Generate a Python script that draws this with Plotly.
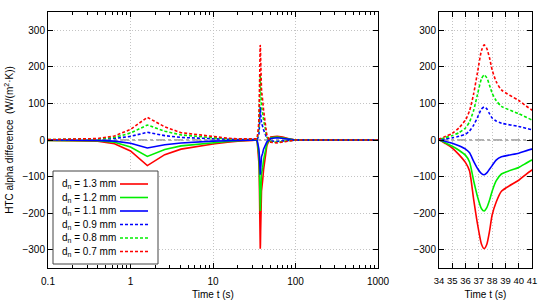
import plotly.graph_objects as go

# ---------------- data ----------------
time_s = [0.1, 0.2, 0.4, 0.64, 1.0, 1.6, 2.6, 4.1, 6.6, 10, 15, 20, 30,
          34, 34.5, 35, 35.5, 36, 36.3, 36.6, 36.9, 37.2, 37.4, 37.6, 37.8, 38.0, 38.3, 38.7, 40, 41,
          45, 50, 60, 70, 85, 100, 200, 1000]

d13 = [-1, -1, -3, -10, -30, -70, -40, -25, -17, -11, -6, -3, -1,
       0, -10, -22, -40, -62, -85, -160, -230, -285, -297, -285, -250, -205, -170, -140, -110, -82,
       -15, 8, 10, 8, 3, 0, 0, 0]
d12 = [-1, -1, -2, -6, -19, -45, -26, -16, -11, -7, -4, -2, -1,
       0, -8, -17, -28, -42, -60, -110, -155, -188, -194, -185, -165, -140, -112, -93, -75, -55,
       -10, 6, 8, 6, 2, 0, 0, 0]
d11 = [0, 0, -1, -3, -9, -22, -13, -8, -5, -3, -2, -1, 0,
       0, -4, -9, -16, -25, -35, -58, -78, -92, -95, -90, -80, -70, -55, -46, -36, -25,
       -5, 4, 6, 4, 1, 0, 0, 0]
d09 = [0, 1, 2, 4, 10, 21, 12, 7, 5, 3, 2, 1, 1,
       1, 3, 6, 10, 16, 25, 40, 62, 85, 90, 85, 72, 60, 52, 46, 37, 28,
       5, -3, -4, -3, -1, 0, 0, 0]
d08 = [1, 1, 3, 7, 19, 41, 24, 14, 9, 6, 3, 2, 1,
       2, 7, 12, 20, 33, 50, 80, 125, 168, 178, 170, 150, 128, 108, 92, 72, 55,
       8, -5, -6, -4, -1, 0, 0, 0]
d07 = [1, 2, 4, 11, 29, 62, 36, 20, 14, 9, 5, 3, 2,
       3, 10, 18, 33, 55, 80, 125, 185, 245, 260, 250, 225, 192, 160, 137, 108, 82,
       12, -6, -8, -6, -2, 0, 0, 0]

series_names = ["d<sub>n</sub> = 1.3 mm", "d<sub>n</sub> = 1.2 mm", "d<sub>n</sub> = 1.1 mm",
                "d<sub>n</sub> = 0.9 mm", "d<sub>n</sub> = 0.8 mm", "d<sub>n</sub> = 0.7 mm"]
series_values = [d13, d12, d11, d09, d08, d07]

left_ticks = [0.1, 1, 10, 100, 1000]
left_ticklabels = ["0.1", "1", "10", "100", "1000"]
right_ticks = [34, 35, 36, 37, 38, 39, 40, 41]
y_ticks = [-300, -200, -100, 0, 100, 200, 300]

# ---------------- styles ----------------
colors = ["#ff0000", "#00ee00", "#0000ff", "#0000ff", "#00ee00", "#ff0000"]
dashes = ["solid", "solid", "solid", "3px,2px", "3px,2px", "3px,2px"]

W, H = 550, 300
ML, MR, MT, MB = 48, 18, 12, 32
PW, PH = W - ML - MR, H - MT - MB


def px_x(p):
    return (p - ML) / PW


def px_y(p):
    return (H - MB - p) / PH


fig = go.Figure()
for name, vals, c, d in zip(series_names, series_values, colors, dashes):
    fig.add_trace(go.Scatter(x=time_s, y=vals, mode="lines", name=name,
                             line=dict(color=c, width=1.6, dash=d),
                             xaxis="x", yaxis="y", showlegend=False))
for name, vals, c, d in zip(series_names, series_values, colors, dashes):
    fig.add_trace(go.Scatter(x=time_s, y=vals, mode="lines", name=name,
                             line=dict(color=c, width=1.6, dash=d, shape="spline", smoothing=0.6),
                             xaxis="x2", yaxis="y2", showlegend=False))

font_family = "Liberation Sans, Arial, sans-serif"
axis_common = dict(showline=True, linecolor="black", linewidth=1, mirror="allticks",
                   ticks="inside", ticklen=5, tickcolor="black", automargin=False,
                   showgrid=True, gridcolor="#c4c4c4", griddash="1px,2px", gridwidth=1,
                   zeroline=False)

fig.update_layout(
    width=W, height=H,
    margin=dict(l=ML, r=MR, t=MT, b=MB),
    paper_bgcolor="white", plot_bgcolor="white",
    font=dict(family=font_family, size=10, color="black"),
    showlegend=False,
    xaxis=dict(type="log", range=[-1, 3], domain=[0, px_x(378)], anchor="y",
               tickvals=left_ticks, ticktext=left_ticklabels, tickangle=0, ticklabelstandoff=4,
               tickfont=dict(size=10, color="black"),
               minor=dict(ticks="inside", ticklen=3, tickcolor="black", dtick="D1", showgrid=False),
               title=dict(text="Time t (s)", font=dict(size=10), standoff=5),
               **axis_common),
    yaxis=dict(range=[-350, 350], tickvals=y_ticks, anchor="x",
               tickfont=dict(size=10, color="black"),
               title=dict(text="HTC alpha difference  (W/(m<sup>2</sup>·K))", font=dict(size=10), standoff=6),
               **axis_common),
    xaxis2=dict(range=[34, 41], domain=[px_x(439), px_x(532)], anchor="y2", tickvals=right_ticks,
                tickangle=0, ticklabelstandoff=4,
                tickfont=dict(size=9.5, color="black"),
                title=dict(text="Time t (s)", font=dict(size=10), standoff=5),
                **axis_common),
    yaxis2=dict(range=[-350, 350], tickvals=y_ticks, anchor="x2",
                tickfont=dict(size=10, color="black"), **axis_common),
)

for xr, yr in (("x", "y"), ("x2", "y2")):
    fig.add_shape(type="line", xref=f"{xr} domain", yref=yr, x0=0, x1=1, y0=0, y1=0,
                  line=dict(color="#606060", width=1, dash="dashdot"), layer="below")

# ---- legend box (gnuplot style: text, then line sample) ----
fig.add_shape(type="rect", xref="paper", yref="paper",
              x0=px_x(53), x1=px_x(158), y0=px_y(264), y1=px_y(171),
              line=dict(color="#444444", width=1), fillcolor="white", layer="above")
row_y = [184, 197.5, 211, 224.5, 238, 251.5]
for name, c, d, ry in zip(series_names, colors, dashes, row_y):
    fig.add_annotation(xref="paper", yref="paper", x=px_x(60), y=px_y(ry),
                       xanchor="left", yanchor="middle", showarrow=False,
                       text=name, font=dict(size=10, color="black"))
    fig.add_shape(type="line", xref="paper", yref="paper",
                  x0=px_x(120), x1=px_x(148), y0=px_y(ry), y1=px_y(ry),
                  line=dict(color=c, width=1.6, dash=d), layer="above")

fig.write_html("out.html", config={"displayModeBar": False},
               post_script="document.body.style.margin='0';")
